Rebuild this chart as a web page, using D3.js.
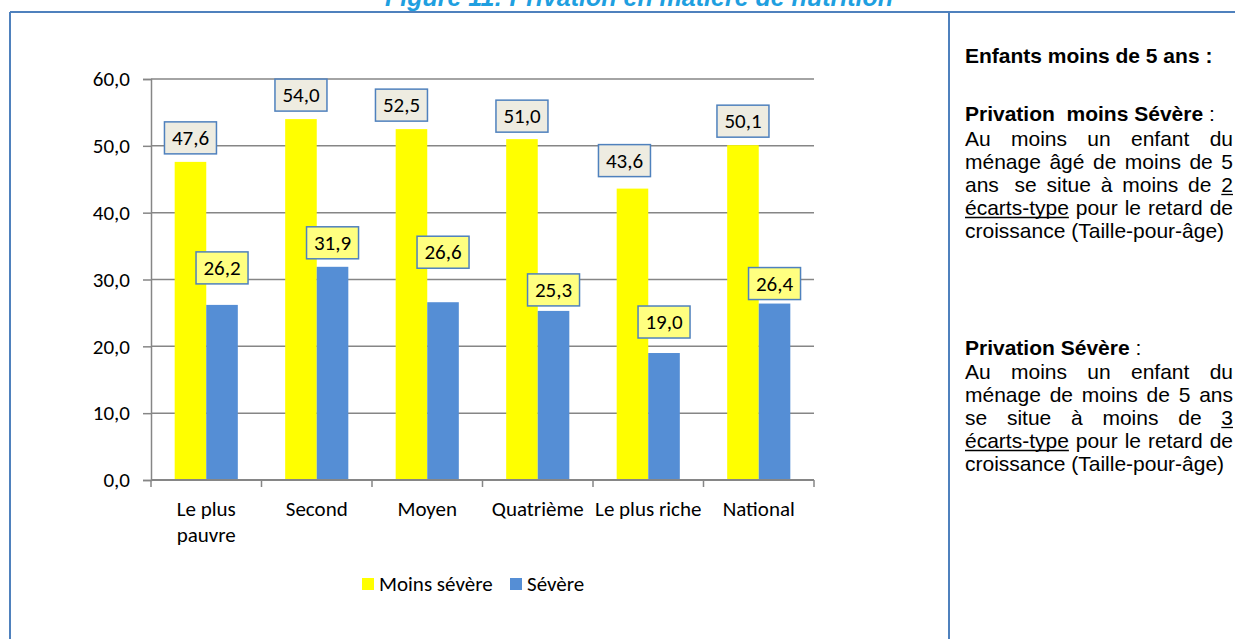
<!DOCTYPE html>
<html><head><meta charset="utf-8">
<script src="https://cdn.jsdelivr.net/npm/d3@7"></script>
<style>
body{margin:0;background:#fff}
svg{display:block}
</style>
</head><body>
<svg id="c" width="1235" height="639"></svg>
<script>
// ---- data ----
const categories = ["Le plus pauvre", "Second", "Moyen", "Quatrième", "Le plus riche", "National"];
const seriesNames = ["Moins sévère", "Sévère"];
const moinsSevere = [47.6, 54.0, 52.5, 51.0, 43.6, 50.1];
const severe = [26.2, 31.9, 26.6, 25.3, 19.0, 26.4];
const yTicks = [0, 10, 20, 30, 40, 50, 60];
const titleText = "Figure 11: Privation en matière de nutrition";

// ---- layout / style ----
const chartFont = "Carlito, Calibri, Lato, sans-serif";
const panelFont = "'Liberation Sans', Arial, sans-serif";
const colors = ["#ffff00", "#558ed5"];
const labelFills = ["#eeece1", "#ffff80"];
const frameColor = "#4f81bd";
const axisColor = "#868686";
const chartSize = 21;
// manual nudges of the data labels (pixels), as placed in the original
const labelNudge = [
  [[0,0],[0,0],[-10,0],[0,1],[-8,-4],[0,0]],
  [[0,-13],[0,0],[0,-26],[0,3],[0,-7],[0,4]]
];

const svg = d3.select("#c");
const plot = {left: 151, right: 814, top: 79, bottom: 480};

// frame
svg.append("line").attr("x1", 10).attr("x2", 1235).attr("y1", 12).attr("y2", 12)
  .attr("stroke", frameColor).attr("stroke-width", 2);
svg.append("line").attr("x1", 10).attr("x2", 10).attr("y1", 12).attr("y2", 639)
  .attr("stroke", frameColor).attr("stroke-width", 2);
svg.append("line").attr("x1", 949).attr("x2", 949).attr("y1", 12).attr("y2", 639)
  .attr("stroke", frameColor).attr("stroke-width", 2);

// title (partially cut at top, as in the original page crop)
svg.append("text").attr("x", 639).attr("y", 6).attr("text-anchor", "middle")
  .attr("font-family", panelFont).attr("font-weight", "bold").attr("font-style", "italic")
  .attr("font-size", 25).attr("fill", "#1f9fe0").text(titleText);

// scales
const x0 = d3.scaleBand().domain(categories).range([plot.left, plot.right]).paddingInner(0).paddingOuter(0);
const x1 = d3.scaleBand().domain(seriesNames).range([0, x0.bandwidth()]).paddingInner(0).paddingOuter(0.75);
const y = d3.scaleLinear().domain([0, 60]).range([plot.bottom, plot.top]);
const fmt = v => d3.format(".1f")(v).replace(".", ",");

// gridlines
svg.append("g").selectAll("line").data(yTicks.filter(d => d > 0)).join("line")
  .attr("x1", plot.left).attr("x2", plot.right)
  .attr("y1", d => y(d)).attr("y2", d => y(d))
  .attr("stroke", axisColor).attr("stroke-width", 1.5);

// y axis
const yAxis = svg.append("g").attr("transform", `translate(${plot.left},0)`)
  .call(d3.axisLeft(y).tickValues(yTicks).tickFormat(fmt).tickSize(8).tickPadding(13));
yAxis.select(".domain").attr("stroke", axisColor).attr("stroke-width", 1.5);
yAxis.selectAll(".tick line").attr("stroke", axisColor).attr("stroke-width", 1.5);
yAxis.selectAll(".tick text").attr("font-family", chartFont).attr("font-size", chartSize).attr("fill", "#000");

// bars
const series = [moinsSevere, severe];
const gBars = svg.append("g");
series.forEach((vals, si) => {
  gBars.append("g").selectAll("rect").data(vals).join("rect")
    .attr("x", (d, i) => x0(categories[i]) + x1(seriesNames[si]))
    .attr("width", x1.bandwidth())
    .attr("y", d => y(d))
    .attr("height", d => y(0) - y(d))
    .attr("fill", colors[si]);
});

// x axis
const xAxisG = svg.append("g").attr("transform", `translate(0,${plot.bottom})`);
xAxisG.append("line").attr("x1", plot.left).attr("x2", plot.right).attr("y1", 0).attr("y2", 0)
  .attr("stroke", axisColor).attr("stroke-width", 2);
const bounds = categories.map(c => x0(c)).concat([plot.right]);
xAxisG.selectAll("line.tk").data(bounds).join("line").attr("class", "tk")
  .attr("x1", d => d).attr("x2", d => d).attr("y1", 0).attr("y2", 7)
  .attr("stroke", axisColor).attr("stroke-width", 1.5);

// x labels with wrapping
const xl = xAxisG.selectAll("text.cat").data(categories).join("text").attr("class", "cat")
  .attr("x", d => x0(d) + x0.bandwidth() / 2).attr("y", 36)
  .attr("text-anchor", "middle").attr("font-family", chartFont).attr("font-size", chartSize).attr("fill", "#000");
xl.each(function(d) {
  const t = d3.select(this);
  t.text(d);
  if (this.getComputedTextLength() > x0.bandwidth() + 4) {
    const words = d.split(" ");
    t.text(null);
    let line = [], lines = [];
    words.forEach(w => {
      const test = line.concat([w]).join(" ");
      t.text(test);
      if (this.getComputedTextLength() > x0.bandwidth() - 4 && line.length) { lines.push(line.join(" ")); line = [w]; }
      else line.push(w);
    });
    lines.push(line.join(" "));
    t.text(null);
    lines.forEach((l, i) => t.append("tspan").attr("x", x0(d) + x0.bandwidth() / 2).attr("dy", i ? 26 : 0).text(l));
  }
});

// data labels
const gLab = svg.append("g");
series.forEach((vals, si) => {
  vals.forEach((v, i) => {
    const cx = x0(categories[i]) + x1(seriesNames[si]) + x1.bandwidth() / 2 + labelNudge[si][i][0];
    const cy = y(v) - 24 + labelNudge[si][i][1];
    gLab.append("rect").attr("x", cx - 26).attr("y", cy - 16).attr("width", 52).attr("height", 32)
      .attr("fill", labelFills[si]).attr("stroke", frameColor).attr("stroke-width", 1.5);
    gLab.append("text").attr("x", cx).attr("y", cy + 7).attr("text-anchor", "middle")
      .attr("font-family", chartFont).attr("font-size", chartSize).attr("fill", "#000").text(fmt(v));
  });
});

// legend
const lg = svg.append("g");
const legendX = [362, 510];
seriesNames.forEach((n, si) => {
  lg.append("rect").attr("x", legendX[si]).attr("y", 578).attr("width", 12).attr("height", 12).attr("fill", colors[si]);
  lg.append("text").attr("x", legendX[si] + 17).attr("y", 591)
    .attr("font-family", chartFont).attr("font-size", chartSize).attr("fill", "#000").text(n);
});

// right panel text, justified
const panelLines = [
  {y: 63, j: false, segs: [{t: "Enfants moins de 5 ans :", b: true}]},
  {y: 121, j: false, segs: [{t: "Privation\u00a0 moins Sévère", b: true}, {t: " :"}]},
  {y: 146, j: true, words: ["Au", "moins", "un", "enfant", "du"]},
  {y: 169, j: true, words: ["ménage", "âgé", "de", "moins", "de", "5"]},
  {y: 192, j: true, words: ["ans\u00a0", "se", "situe", "à", "moins", "de", {t: "2", u: true}]},
  {y: 215, j: true, words: [{t: "écarts-type", u: true}, "pour", "le", "retard", "de"]},
  {y: 238, j: false, segs: [{t: "croissance (Taille-pour-âge)"}]},
  {y: 355, j: false, segs: [{t: "Privation Sévère", b: true}, {t: " :"}]},
  {y: 379, j: true, words: ["Au", "moins", "un", "enfant", "du"]},
  {y: 402, j: true, words: ["ménage", "de", "moins", "de", "5", "ans"]},
  {y: 425, j: true, words: ["se", "situe", "à", "moins", "de", {t: "3", u: true}]},
  {y: 448, j: true, words: [{t: "écarts-type", u: true}, "pour", "le", "retard", "de"]},
  {y: 471, j: false, segs: [{t: "croissance (Taille-pour-âge)"}]}
];
const panelLeft = 965, panelRight = 1233, panelSize = 21;
const pg = svg.append("g").attr("font-family", panelFont).attr("font-size", panelSize).attr("fill", "#000");
panelLines.forEach(L => {
  if (!L.j) {
    const t = pg.append("text").attr("x", panelLeft).attr("y", L.y).attr("xml:space", "preserve");
    L.segs.forEach(s => t.append("tspan").attr("font-weight", s.b ? "bold" : "normal").text(s.t));
  } else {
    const ws = L.words.map(w => typeof w === "string" ? {t: w} : w);
    const nodes = ws.map(w => pg.append("text").attr("y", L.y).text(w.t));
    const widths = nodes.map(n => n.node().getComputedTextLength());
    const total = d3.sum(widths);
    const gap = (panelRight - panelLeft - total) / (ws.length - 1);
    let xx = panelLeft;
    nodes.forEach((n, i) => {
      n.attr("x", xx);
      if (ws[i].u) pg.append("line").attr("x1", xx).attr("x2", xx + widths[i])
        .attr("y1", L.y + 2.5).attr("y2", L.y + 2.5).attr("stroke", "#000").attr("stroke-width", 1.3);
      xx += widths[i] + gap;
    });
  }
});
</script>
</body></html>
